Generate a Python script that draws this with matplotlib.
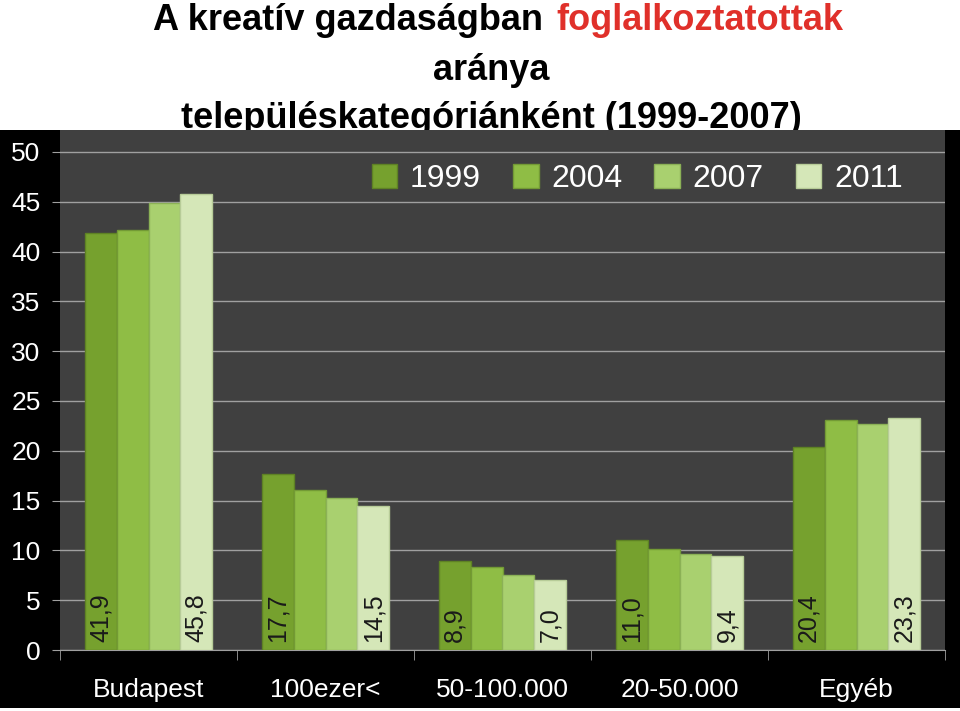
import matplotlib
matplotlib.use("Agg")
import matplotlib.pyplot as plt
import numpy as np
from matplotlib.patches import Rectangle

categories = ["Budapest", "100ezer<", "50-100.000", "20-50.000", "Egyéb"]
years = ["1999", "2004", "2007", "2011"]
v1999 = [41.9, 17.7, 8.9, 11.0, 20.4]
v2004 = [42.2, 16.1, 8.3, 10.1, 23.1]
v2007 = [44.9, 15.3, 7.5, 9.6, 22.7]
v2011 = [45.8, 14.5, 7.0, 9.4, 23.3]
series = [v1999, v2004, v2007, v2011]
colors = ["#76a12e", "#8fbd45", "#a9d06f", "#d5e7b8"]
edges = ["#5e8224", "#739a35", "#8bb156", "#b7cc98"]

plt.rcParams['font.family'] = ['Liberation Sans', 'DejaVu Sans']
fig = plt.figure(figsize=(9.6, 7.11), dpi=100)
fig.patch.set_facecolor("white")
fig.patches.append(Rectangle((0, 0.004), 1, 1 - 130/711 - 0.004, transform=fig.transFigure,
                             facecolor="black", zorder=1))
fs = 26
fig.text(0.576, 1 - 20/711, "A kreatív gazdaságban ", fontsize=fs, fontweight="bold", color="black",
         ha="right", va="center", zorder=0)
fig.text(0.580, 1 - 20/711, "foglalkoztatottak", fontsize=fs, fontweight="bold", color="#e0302a",
         ha="left", va="center", zorder=0)
fig.text(0.512, 1 - 70/711, "aránya", fontsize=fs, fontweight="bold", color="black",
         ha="center", va="center", zorder=0)
fig.text(0.512, 1 - 118/711, "településkategóriánként (1999-2007)", fontsize=fs, fontweight="bold",
         color="black", ha="center", va="center", zorder=0)

ax = fig.add_axes([60/960, 1 - 650/711, 885/960, 520/711])
ax.set_zorder(2)
ax.set_facecolor("#404040")
x = np.arange(len(categories))
w = 0.18
for i, (vals, c, e) in enumerate(zip(series, colors, edges)):
    pos = x + (i - 1.5) * w
    ax.bar(pos, vals, width=w, color=c, edgecolor=e, linewidth=1, label=years[i], zorder=3)
    if i in (0, 3):
        for p, v in zip(pos, vals):
            ax.text(p, 0.8, f"{v:.1f}".replace(".", ","), rotation=90, ha="center", va="bottom",
                    fontsize=18, color="#1a1a1a", zorder=4)

ax.set_xlim(-0.5, 4.5)
ax.set_ylim(0, 52.2)
ax.set_yticks(range(0, 51, 5))
ax.yaxis.grid(True, color="#a0a0a0", linewidth=1, zorder=0)
ax.set_axisbelow(True)
ax.set_xticks(x)
ax.set_xticklabels(categories, fontsize=19, color="white")
ax.set_xticks(np.arange(-0.5, 5, 1), minor=True)
ax.tick_params(axis="x", which="major", length=0, pad=20)
ax.tick_params(axis="x", which="minor", length=7, color="#a0a0a0")
ax.tick_params(axis="y", colors="white", labelsize=19, length=6, color="#a0a0a0", pad=8)
for s in ["top", "right", "left"]:
    ax.spines[s].set_visible(False)
ax.spines["bottom"].set_color("#a0a0a0")
leg = ax.legend(loc="upper right", bbox_to_anchor=(0.985, 0.99), ncol=4, frameon=False,
                fontsize=23, labelcolor="white", handlelength=0.8, handleheight=0.8,
                columnspacing=1.0, handletextpad=0.4)
fig.savefig("out.png", dpi=100, facecolor=fig.get_facecolor())
